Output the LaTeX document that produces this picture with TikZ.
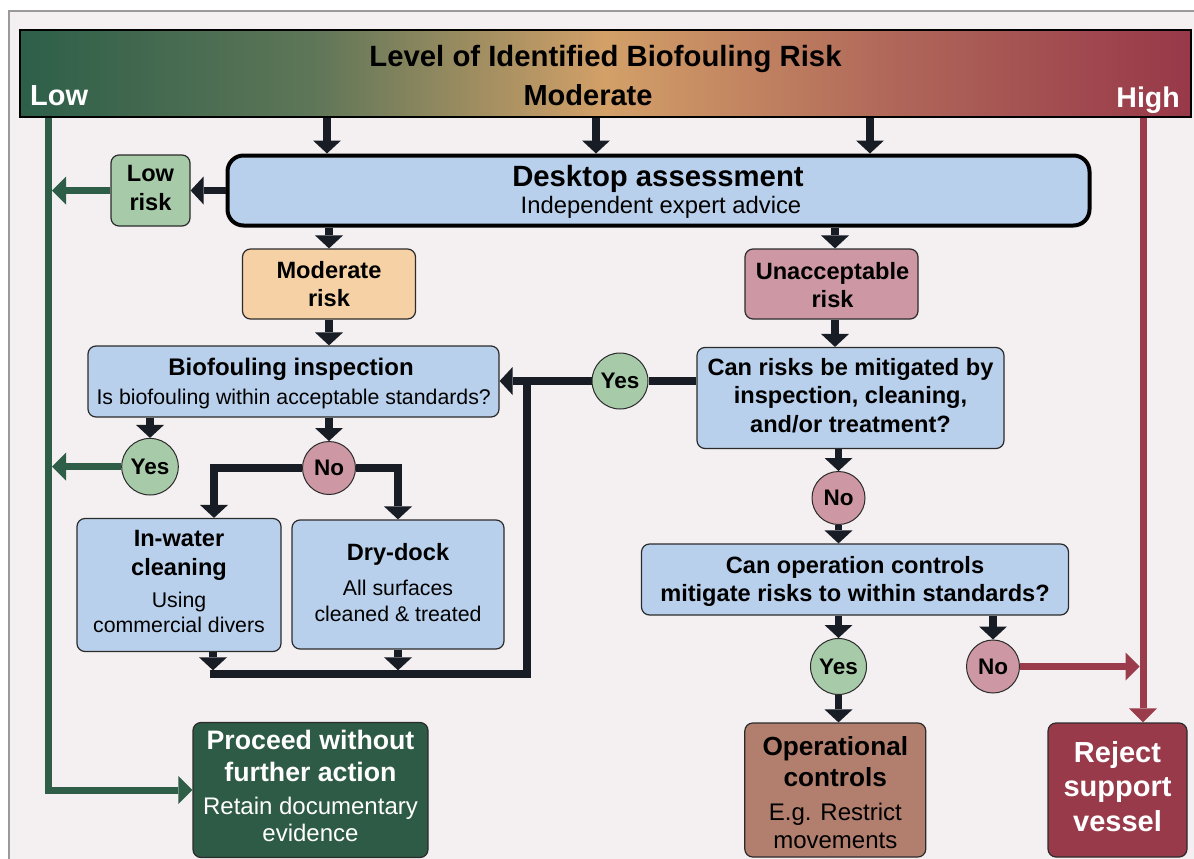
\documentclass[tikz,border=0pt]{standalone}
\usepackage{fontspec}
\setmainfont{Liberation Sans}
\usetikzlibrary{arrows.meta,calc}
\definecolor{bgc}{HTML}{F4F0F1}
\definecolor{framec}{HTML}{9A9A9A}
\definecolor{bluec}{HTML}{B9D0EC}
\definecolor{edgec}{HTML}{2B2B2B}
\definecolor{greenl}{HTML}{A7CBA9}
\definecolor{pinkc}{HTML}{CD98A3}
\definecolor{orangec}{HTML}{F5D1A5}
\definecolor{proceedc}{HTML}{2E5B45}
\definecolor{brownc}{HTML}{B27E6D}
\definecolor{rejectc}{HTML}{983A4A}
\definecolor{arrc}{HTML}{181C25}
\definecolor{grnc}{HTML}{2E5E48}
\definecolor{redc}{HTML}{9A3C4B}
\definecolor{gA}{HTML}{2D5F49}
\definecolor{gB}{HTML}{5E7658}
\definecolor{gC}{HTML}{D3A068}
\definecolor{gD}{HTML}{AF6659}
\definecolor{gE}{HTML}{983849}
\pgfdeclarehorizontalshading{riskbar}{100bp}{color(0bp)=(gA); color(25bp)=(gA); color(37.5bp)=(gB); color(50bp)=(gC); color(62.5bp)=(gD); color(75bp)=(gE); color(100bp)=(gE)}
\newcommand\fsz[1]{\fontsize{#1}{#1}\selectfont}
\begin{document}
\begin{tikzpicture}[x=1pt,y=-1pt,
  box/.style={draw=edgec, line width=1.2pt, rounded corners=8pt, inner sep=0pt},
  circ/.style={circle, draw=edgec, line width=1pt, inner sep=0pt, font=\bfseries\fsz{22.5}},
  tx/.style={anchor=base, inner sep=0pt},
  bl/.style={font=\bfseries\fsz{23.6}},
  rg/.style={font=\fsz{21.3}},
  arr/.style={draw=arrc, line width=7.5pt, -{Triangle[width=28pt,length=13pt,line width=0pt]}},
  lin/.style={draw=arrc, line width=7.5pt},
  garr/.style={draw=grnc, line width=7pt, -{Triangle[width=28pt,length=14pt,line width=0pt]}},
  rarr/.style={draw=redc, line width=7pt, -{Triangle[width=28pt,length=14pt,line width=0pt]}}
]
\useasboundingbox (0,0) rectangle (1194,859);
\clip (0,0) rectangle (1194,859);
\fill[white] (0,0) rectangle (1194,859);
\draw[draw=framec, line width=2pt, fill=bgc] (9,11) rectangle (1260,920);

% risk bar
\node[draw=black, line width=1.5pt, shade, shading=riskbar, minimum width=1171pt, minimum height=87pt, inner sep=0pt] (bar) at (605.5,73.5) {};
\node[tx, font=\bfseries\fsz{29.3}] (ttitle) at (605.5,66.7) {Level of Identified Biofouling Risk};
\node[tx, font=\bfseries\fsz{29}] (tmod) at (588,106) {Moderate};
\node[tx, anchor=base west, font=\bfseries\fsz{29}, text=white] (tlow) at (30,105) {Low};
\node[tx, anchor=base east, font=\bfseries\fsz{28.5}, text=white] (thigh) at (1180,107) {High};

% boxes
\node[box, fill=bluec, draw=black, line width=4pt, rounded corners=16pt, minimum width=862pt, minimum height=70pt] (desk) at (658.5,190.5) {};
\node[box, fill=greenl, minimum width=79pt, minimum height=71pt] (lowrisk) at (150.5,190.5) {};
\node[box, fill=orangec, minimum width=173pt, minimum height=70pt] (modrisk) at (329,284) {};
\node[box, fill=pinkc, minimum width=173pt, minimum height=70pt] (unacc) at (831.5,284) {};
\node[box, fill=bluec, minimum width=411pt, minimum height=71pt] (biof) at (293.5,381.5) {};
\node[box, fill=bluec, minimum width=307pt, minimum height=101pt] (canrisk) at (850.5,398) {};
\node[box, fill=bluec, minimum width=204pt, minimum height=133pt] (inwater) at (179,585) {};
\node[box, fill=bluec, minimum width=212pt, minimum height=129pt] (drydock) at (398,584.5) {};
\node[box, fill=bluec, minimum width=427pt, minimum height=71pt] (opq) at (855,579.5) {};
\node[box, fill=brownc, minimum width=181pt, minimum height=134pt] (opctrl) at (835.3,790) {};
\node[box, fill=rejectc, minimum width=139pt, minimum height=134pt] (reject) at (1117.5,790) {};
\node[box, fill=proceedc, minimum width=235pt, minimum height=135pt] (proceed) at (310.5,790) {};

% connectors
\foreach \xx in {327,596,870} \draw[arr] (bar.south -| \xx,0) -- (desk.north -| \xx,0);
\draw[arr] (desk.west) -- (lowrisk.east);
\draw[arr] (desk.south -| modrisk) -- (modrisk.north);
\draw[arr] (desk.south -| 835,0) -- (unacc.north -| 835,0);
\draw[arr] (modrisk.south) -- (biof.north -| modrisk);
\draw[arr] (unacc.south -| 835,0) -- (canrisk.north -| 835,0);

% circles
\node[circ, fill=greenl, minimum size=56.6pt] (yes1) at (150,466.7) {Yes};
\node[circ, fill=pinkc, minimum size=53pt] (no1) at (329,468) {No};
\node[circ, fill=greenl, minimum size=56pt] (yes2) at (620,381) {Yes};
\node[circ, fill=pinkc, minimum size=53pt] (no2) at (838.5,498) {No};
\node[circ, fill=greenl, minimum size=56pt] (yes3) at (838.5,666.5) {Yes};
\node[circ, fill=pinkc, minimum size=53pt] (no3) at (993,666.5) {No};

\draw[arr] (biof.south -| yes1) -- (yes1.north);
\draw[arr] (biof.south -| no1) -- (no1.north);
\draw[arr] (no1.west) -| (inwater.north -| 214,0);
\draw[arr] (no1.east) -| (drydock.north);
\coordinate (lpL) at (209.5,674);
\coordinate (lpR) at (527,674);
\coordinate (lpT) at (527,377.5);
\draw[arr] (inwater.south -| 213,0) -- ([yshift=3.7pt]lpL -| 213,0);
\draw[arr] (drydock.south) -- ([yshift=3.7pt]lpL -| drydock);
\draw[lin] (lpL) -- (lpR) -- (lpT);
\draw[lin] (canrisk.west |- yes2) -- (yes2.east);
\draw[arr] (yes2.west) -- (biof.east |- yes2);
\draw[arr] (canrisk.south -| no2) -- (no2.north);
\draw[arr] (no2.south) -- (opq.north -| no2);
\draw[arr] (opq.south -| yes3) -- (yes3.north);
\draw[arr] (opq.south -| no3) -- (no3.north);
\draw[arr] (yes3.south) -- (opctrl.north -| yes3);

% green low path
\coordinate (gl) at (48.5,790);
\draw[garr] (bar.south -| gl) |- (proceed.west);
\draw[garr] (lowrisk.west) -- (lowrisk.west -| 52,0);
\draw[garr] (yes1.west) -- (yes1.west -| 52,0);
% red high path
\coordinate (rl) at (1143,0);
\draw[rarr] (bar.south -| rl) -- (reject.north -| rl);
\draw[rarr] (no3.east) -- (no3.east -| 1139.5,0);

% texts
\node[tx, font=\bfseries\fsz{29.3}] (tdesk1) at (658,186.7) {Desktop assessment};
\node[tx, font=\fsz{23.8}] (tdesk2) at (661,213) {Independent expert advice};
\node[tx, bl] (tlr1) at (150.5,181.7) {Low};
\node[tx, bl] (tlr2) at (150.5,210) {risk};
\node[tx, bl] (tmr1) at (329,278) {Moderate};
\node[tx, bl] (tmr2) at (329,306.7) {risk};
\node[tx, bl] (tun1) at (832.5,279.3) {Unacceptable};
\node[tx, bl] (tun2) at (832.5,307.7) {risk};
\node[tx, font=\bfseries\fsz{24}] (tbi1) at (291,375.7) {Biofouling inspection};
\node[tx, rg] (tbi2) at (293.7,404) {Is biofouling within acceptable standards?};
\node[tx, bl] (tcr1) at (850.5,375) {Can risks be mitigated by};
\node[tx, bl] (tcr2) at (850.5,403) {inspection, cleaning,};
\node[tx, bl] (tcr3) at (850.5,432.7) {and/or treatment?};
\node[tx, bl] (tiw1) at (179,546.7) {In-water};
\node[tx, bl] (tiw2) at (179,575) {cleaning};
\node[tx, rg] (tiw3) at (179,607) {Using};
\node[tx, rg] (tiw4) at (179,632.7) {commercial divers};
\node[tx, bl] (tdd1) at (398,560) {Dry-dock};
\node[tx, rg] (tdd2) at (398,595) {All surfaces};
\node[tx, rg] (tdd3) at (398,621) {cleaned \& treated};
\node[tx, bl] (toq1) at (855,573.3) {Can operation controls};
\node[tx, bl] (toq2) at (855,601.7) {mitigate risks to within standards?};
\node[tx, font=\bfseries\fsz{26.2}] (toc1) at (835.3,755.7) {Operational};
\node[tx, font=\bfseries\fsz{26.2}] (toc2) at (835.3,786.7) {controls};
\node[tx, font=\fsz{24}] (toc3) at (835.3,820) {E.g. Restrict};
\node[tx, font=\fsz{24}] (toc4) at (835.3,848.3) {movements};
\node[tx, font=\bfseries\fsz{29}, text=white] (trj1) at (1117.5,762.7) {Reject};
\node[tx, font=\bfseries\fsz{29}, text=white] (trj2) at (1117.5,796.7) {support};
\node[tx, font=\bfseries\fsz{29}, text=white] (trj3) at (1117.5,831.7) {vessel};
\node[tx, font=\bfseries\fsz{26.7}, text=white] (tpr1) at (310.5,749.3) {Proceed without};
\node[tx, font=\bfseries\fsz{26.7}, text=white] (tpr2) at (310.5,781.7) {further action};
\node[tx, font=\fsz{24}, text=white] (tpr3) at (310.5,814) {Retain documentary};
\node[tx, font=\fsz{24}, text=white] (tpr4) at (310.5,841.7) {evidence};
\end{tikzpicture}
\end{document}
